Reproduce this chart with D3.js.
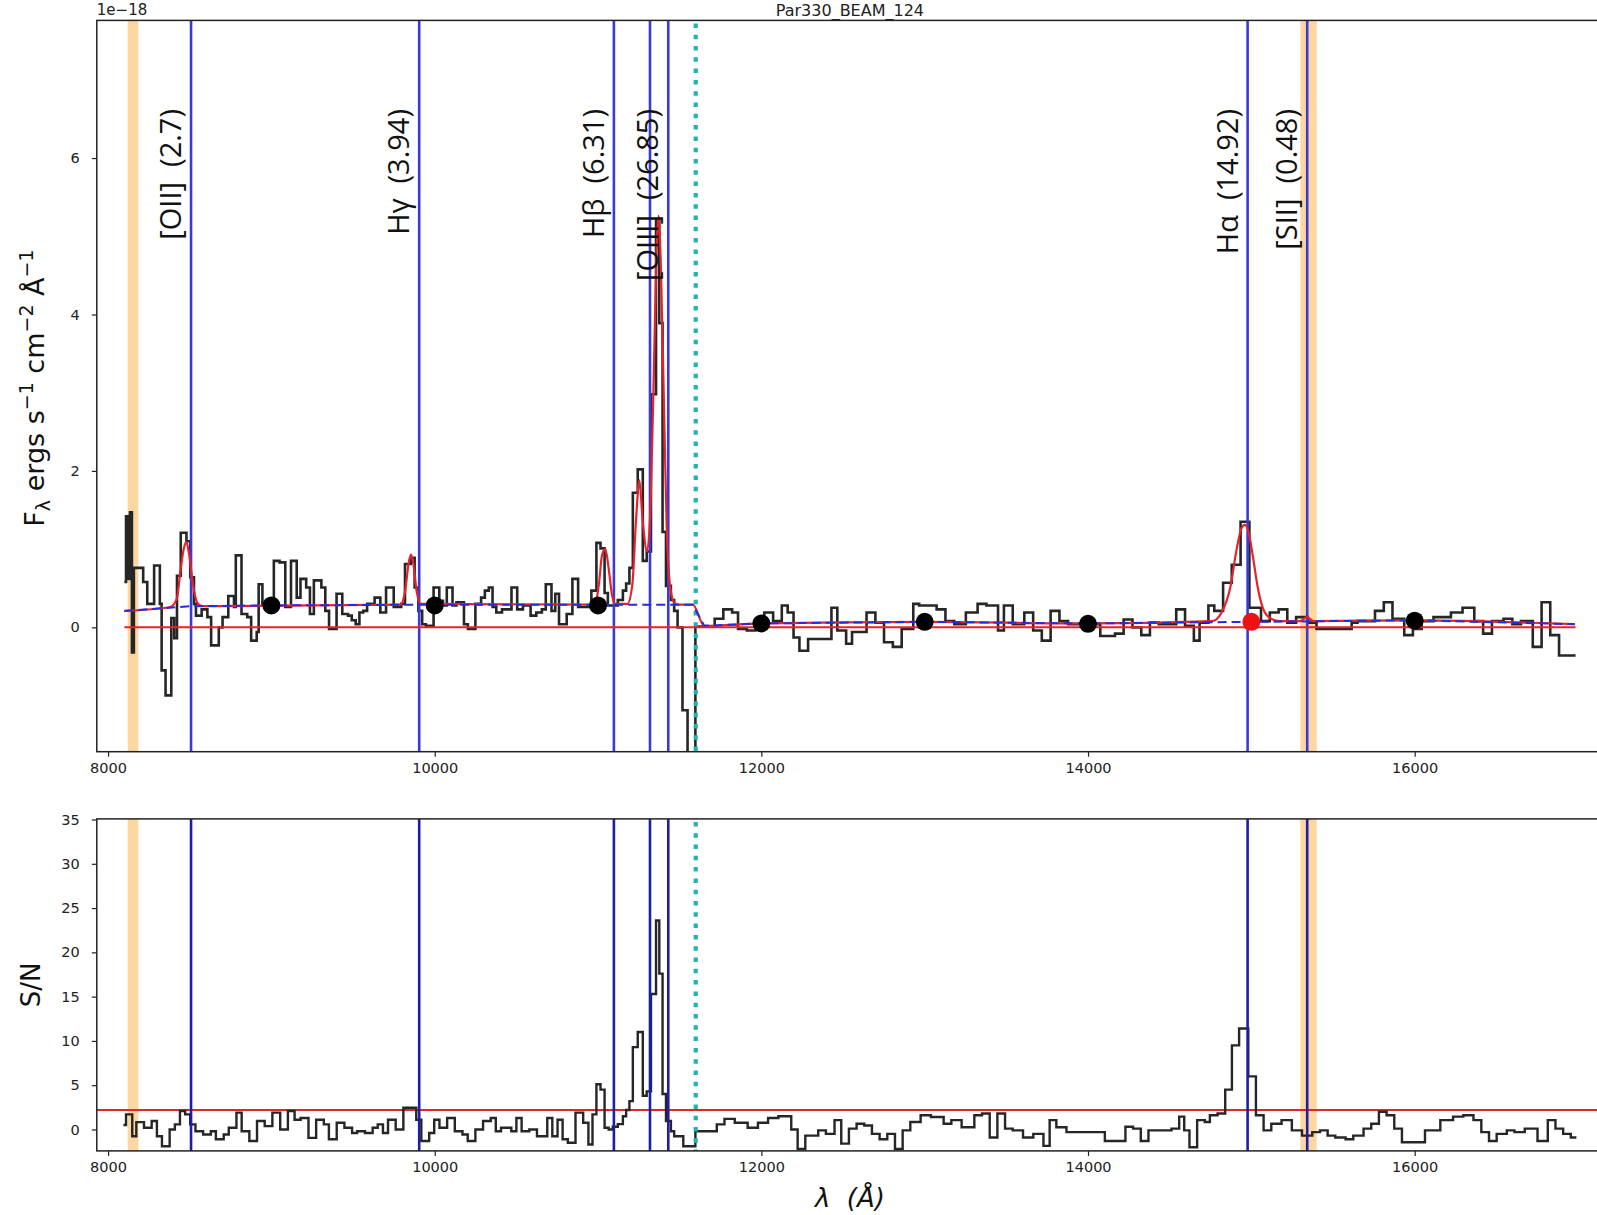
<!DOCTYPE html>
<html>
<head>
<meta charset="utf-8">
<script src="https://cdn.jsdelivr.net/npm/d3@7"></script>
<style>
  body { margin: 0; background: #fff; }
  svg { display: block; }
  .tick text { font-family: "DejaVu Sans", sans-serif; font-size: 14.5px; fill: #222; }
  .tick line { stroke: #222; stroke-width: 1.2; }
</style>
</head>
<body>
<svg id="chart" width="1597" height="1215"></svg>
<script>
// ---- Spectrum: flux (1e-18 erg/s/cm2/A), step bins given by left edge wavelength ----
const fluxWave = [8100,8110,8122,8134,8146,8158,8215,8240,8282,8317,8328,8352,8387,8405,8422,8445,8480,8503,8526,8538,
  8573,8608,8631,8678,8701,8736,8771,8782,8817,8852,8876,8910,8922,8945,8992,9015,9050,9085,9120,9155,
  9178,9213,9236,9260,9306,9330,9353,9399,9434,9469,9492,9516,9539,9562,9586,9632,9667,9702,9749,9795,
  9818,9853,9877,9900,9923,9946,9993,10028,10051,10074,10109,10133,10179,10203,10249,10284,10307,10331,10354,10377,
  10412,10470,10505,10540,10587,10622,10656,10680,10715,10738,10761,10808,10843,10878,10959,10990,11015,11040,11060,11121,
  11152,11172,11192,11213,11243,11274,11298,11324,11355,11375,11395,11416,11446,11466,11487,11517,11548,11596,11714,11767,
  11821,11857,11911,11964,12018,12072,12125,12161,12197,12233,12286,12429,12465,12519,12555,12644,12698,12751,12805,12859,
  12930,12966,13073,13127,13181,13252,13324,13378,13449,13485,13539,13610,13664,13717,13771,13825,13878,14075,14165,14218,
  14272,14326,14379,14433,14540,14594,14648,14683,14737,14773,14827,14880,14934,14988,15059,15113,15167,15220,15274,15345,
  15399,15614,15650,15757,15811,15864,15936,15989,16043,16115,16222,16293,16365,16419,16473,16544,16598,16651,16723,16777,
  16830,16884];
const fluxVal = [0.58,1.42,0.62,1.47,-0.32,0.76,0.58,0.30,0.79,0.30,-0.55,-0.87,0.12,-0.14,0.66,1.21,1.10,0.64,0.30,0.15,
  0.23,0.13,-0.23,0.00,0.13,0.40,0.26,0.92,0.17,0.13,-0.17,-0.06,0.55,0.30,0.21,0.85,0.83,0.26,0.85,0.38,
  0.62,0.51,0.17,0.60,0.51,0.21,-0.02,0.43,0.17,0.15,0.09,0.04,0.19,0.21,0.30,0.38,0.19,0.51,0.26,0.30,
  0.81,0.89,0.51,0.21,0.04,0.02,0.51,0.34,0.28,0.51,0.28,0.32,0.04,-0.02,0.30,0.38,0.47,0.51,0.26,0.19,
  0.23,0.51,0.23,0.28,0.15,0.19,0.23,0.55,0.21,0.43,0.04,0.17,0.62,0.26,0.47,1.08,1.01,0.44,0.28,0.35,
  0.47,0.56,0.76,1.72,2.02,0.85,0.97,2.98,5.20,3.89,1.22,0.53,0.35,0.21,0.00,-1.06,-1.70,0.01,0.11,0.23,
  0.19,-0.02,-0.04,0.04,0.19,0.08,0.28,0.19,-0.13,-0.30,-0.15,0.25,-0.04,-0.21,-0.06,0.19,0.06,-0.19,-0.25,-0.02,
  0.30,0.28,0.23,0.08,0.04,0.19,0.30,0.28,-0.04,0.28,0.04,0.19,-0.04,-0.17,0.21,0.08,0.04,-0.11,-0.08,0.10,
  0.00,-0.10,0.06,0.04,0.23,0.02,-0.17,0.06,0.28,0.21,0.57,0.80,1.35,0.25,0.08,0.19,0.23,0.06,0.13,0.06,
  -0.02,0.06,0.08,0.21,0.32,0.11,-0.10,-0.02,0.08,0.13,0.19,0.25,0.08,-0.08,0.08,0.11,0.04,0.08,-0.25,0.32,
  -0.10,-0.36];
const fluxEnd = 16985;

// ---- Signal-to-noise per bin ----
const snWave = [8094,8110,8148,8173,8220,8267,8299,8330,8377,8409,8440,8472,8503,8535,8582,8629,8660,8708,8739,8786,
  8818,8865,8912,8959,9006,9054,9101,9142,9179,9227,9274,9321,9352,9400,9447,9494,9525,9573,9620,9651,
  9683,9714,9761,9808,9887,9918,9966,9997,10029,10076,10123,10170,10202,10249,10296,10343,10374,10406,10469,10500,
  10532,10579,10626,10689,10720,10752,10783,10815,10862,10909,10941,10966,10990,11015,11040,11065,11090,11121,11152,11172,
  11192,11213,11243,11274,11298,11324,11355,11375,11395,11416,11446,11466,11487,11522,11596,11727,11774,11837,11916,11979,
  12041,12104,12183,12222,12269,12348,12395,12448,12489,12536,12583,12630,12677,12724,12771,12818,12865,12912,12975,13038,
  13116,13163,13226,13304,13351,13398,13445,13492,13539,13602,13665,13727,13765,13806,13868,14103,14229,14276,14323,14370,
  14511,14558,14589,14621,14668,14715,14746,14793,14840,14881,14925,14981,15028,15075,15122,15185,15248,15310,15373,15420,
  15467,15514,15577,15624,15687,15734,15781,15828,15875,15922,16063,16157,16235,16298,16360,16408,16455,16502,16564,16611,
  16674,16752,16815,16862,16909,16956];
const snVal = [0.5,1.7,-0.76,0.83,0.2,0.95,-0.76,-1.9,0.0,0.57,2.08,1.7,0.57,-0.2,-0.57,-0.2,-1.1,-0.57,0.2,1.9,
  -0.2,-1.3,0.95,0.38,1.9,0.0,2.08,1.1,1.3,-0.95,1.1,0.57,-1.1,0.76,0.2,-0.4,-0.2,-0.4,0.2,0.57,
  -0.4,1.1,0.0,2.46,1.1,-1.3,-0.4,1.1,0.2,1.3,-0.2,-0.57,-1.3,0.0,0.95,1.3,-0.2,0.2,-0.2,1.3,
  -0.2,0.0,-0.76,1.3,-0.76,1.1,-1.1,-1.5,1.9,0.76,-1.7,1.7,5.1,4.5,0.2,0.0,0.3,0.6,1.5,2.2,
  3.2,9.3,11.0,3.8,4.3,15.3,23.6,17.6,4.0,0.95,-0.2,-0.76,-0.76,-1.9,-0.2,0.57,1.2,0.76,0.2,0.76,
  1.3,1.5,0.0,-2.2,-0.7,-0.1,-0.5,1.05,-1.6,0.1,0.65,0.45,-0.5,-1.1,-0.5,-2.2,-0.1,0.85,1.6,1.4,
  0.65,1.05,0.25,1.6,1.8,-0.9,1.8,0.1,-0.1,-0.9,-0.5,-1.85,1.05,0.25,-0.3,-1.3,0.3,0.1,-1.3,-0.1,
  0.1,1.45,-0.1,-2.0,1.05,0.85,1.6,1.8,4.5,9.5,11.4,6.0,1.6,-0.1,0.65,1.05,-0.1,-0.7,-0.3,-0.1,
  -0.7,-0.9,-1.1,-0.7,0.1,0.65,2.0,1.6,0.1,-1.45,-0.1,1.05,1.45,1.6,1.05,-0.3,-1.3,-0.5,-0.1,-0.3,
  0.1,-1.3,1.05,0.1,-0.5,-0.9];
const snEnd = 16990;
const snThreshold = 2.2;

// ---- Best-fit model (continuum + emission lines) ----
const modelWave = [8100,8380,8420,8445,8465,8480,8495,8520,8545,8575,9790,9820,9840,9855,9870,9890,9915,
  10980,11005,11025,11045,11065,11085,11105,11180,11210,11232,11253,11272,11300,11322,11342,11358,11370,11385,11402,
  11420,11440,11465,11490,11580,11650,12000,13000,14000,14760,14820,14870,14910,14940,14960,14985,15010,15040,15080,
  15130,15170,15300,15340,15380,16000,16980];
const modelFlux = [0.21,0.26,0.36,0.75,1.02,1.09,0.95,0.55,0.32,0.27,0.29,0.48,0.82,0.93,0.80,0.45,0.30,
  0.29,0.55,0.93,1.00,0.75,0.42,0.30,0.30,0.55,1.35,1.88,1.40,0.97,1.60,3.30,4.80,5.26,4.60,3.00,
  1.30,0.55,0.32,0.29,0.29,0.02,0.05,0.07,0.05,0.08,0.20,0.50,1.00,1.27,1.31,1.20,0.90,0.50,0.20,
  0.10,0.08,0.08,0.13,0.08,0.09,0.04];

// ---- Continuum ----
const contWave = [8100,8500,9000,10000,11000,11580,11650,12000,13000,14000,15000,16000,16980];
const contFlux = [0.21,0.27,0.28,0.29,0.29,0.29,0.02,0.05,0.07,0.05,0.07,0.09,0.04];
const nodeWave = [9000,10000,11000,12000,13000,14000,15000,16000];
const nodeFlux = [0.28,0.28,0.28,0.05,0.07,0.045,0.07,0.085];
const nodeMasked = [false,false,false,false,false,false,true,false];

// ---- Emission lines (observed wavelength) ----
const lineWave = [8508, 9905, 11097, 11318, 11430, 14977, 15342];
const labelName = ["[OII]", "H\u03b3", "H\u03b2", "[OIII]", "H\u03b1", "[SII]"];
const labelSN = ["2.7", "3.94", "6.31", "26.85", "14.92", "0.48"];
const labelWave = [8508, 9905, 11097, 11430, 14977, 15342];

// ---- Masked regions and grism transition ----
const maskStart = [8120, 15300];
const maskEnd = [8185, 15400];
const grismSplit = 11598;

const xTicks = [8000, 10000, 12000, 14000, 16000];
const fluxTicks = [0, 2, 4, 6];
const snTicks = [0, 5, 10, 15, 20, 25, 30, 35];

const title = "Par330_BEAM_124";

// ---------------------------------------------------------------
const svg = d3.select("#chart");
const L = 96.8, R = 1603;
const top1 = 20.4, bot1 = 751.7, top2 = 818.9, bot2 = 1150.9;

const x = d3.scaleLinear().domain([7931, 17153]).range([L, R]);
const yF = d3.scaleLinear().domain([-1.59, 7.76]).range([bot1, top1]);
const yS = d3.scaleLinear().domain([-2.42, 35.07]).range([bot2, top2]);

const defs = svg.append("defs");
defs.append("clipPath").attr("id", "clip1").append("rect")
  .attr("x", L).attr("y", top1).attr("width", R - L).attr("height", bot1 - top1);
defs.append("clipPath").attr("id", "clip2").append("rect")
  .attr("x", L).attr("y", top2).attr("width", R - L).attr("height", bot2 - top2);

const zip = (a, b) => a.map((w, i) => [w, b[i]]);
const stepPts = (w, v, end) => zip(w, v).concat([[end, v[v.length - 1]]]);

const BLUE_TOP = "#3a3ad8", BLUE_BOT = "#1d1daa", RED = "#e3242b",
      CYAN = "#1fb3b3", ORANGE = "#fdd7a0", BLACK = "#262626";

function panel(top, bot, clipId) {
  const g = svg.append("g").attr("clip-path", `url(#${clipId})`);
  // masked regions
  g.selectAll("rect.mask").data(maskStart).join("rect")
    .attr("x", (d) => x(d)).attr("y", top)
    .attr("width", (d, i) => x(maskEnd[i]) - x(d)).attr("height", bot - top)
    .attr("fill", ORANGE);
  return g;
}

function vlines(g, top, bot, color) {
  g.selectAll("line.em").data(lineWave).join("line")
    .attr("x1", (d) => x(d)).attr("x2", (d) => x(d))
    .attr("y1", top).attr("y2", bot)
    .attr("stroke", color).attr("stroke-width", 2.6);
  g.append("line")
    .attr("x1", x(grismSplit)).attr("x2", x(grismSplit))
    .attr("y1", top + 3).attr("y2", bot)
    .attr("stroke", CYAN).attr("stroke-width", 4.2)
    .attr("stroke-dasharray", "4.5 6.8");
}

// ===== Top panel: flux =====
const g1 = panel(top1, bot1, "clip1");
g1.append("path")
  .datum(stepPts(fluxWave, fluxVal, fluxEnd))
  .attr("fill", "none").attr("stroke", BLACK).attr("stroke-width", 2.6)
  .attr("d", d3.line().x((d) => x(d[0])).y((d) => yF(d[1])).curve(d3.curveStepAfter));
vlines(g1, top1, bot1, BLUE_TOP);

// zero level
g1.append("line")
  .attr("x1", x(fluxWave[0])).attr("x2", x(fluxEnd))
  .attr("y1", yF(0)).attr("y2", yF(0))
  .attr("stroke", RED).attr("stroke-width", 2);

// model
g1.append("path")
  .datum(zip(modelWave, modelFlux))
  .attr("fill", "none").attr("stroke", RED).attr("stroke-width", 2.2)
  .attr("d", d3.line().x((d) => x(d[0])).y((d) => yF(d[1])).curve(d3.curveMonotoneX));

// continuum
g1.append("path")
  .datum(zip(contWave, contFlux))
  .attr("fill", "none").attr("stroke", "#2a2ae0").attr("stroke-width", 2)
  .attr("stroke-dasharray", "9 5")
  .attr("d", d3.line().x((d) => x(d[0])).y((d) => yF(d[1])));

// continuum nodes
g1.selectAll("circle.node").data(zip(nodeWave, nodeFlux)).join("circle")
  .attr("cx", (d) => x(d[0])).attr("cy", (d) => yF(d[1])).attr("r", 9)
  .attr("fill", (d, i) => nodeMasked[i] ? "#ee1111" : "#000");

// line labels
svg.append("g").selectAll("text").data(labelWave).join("text")
  .attr("transform", (d) => `translate(${x(d) - 10},109) rotate(-90)`)
  .attr("text-anchor", "end")
  .style("white-space", "pre")
  .attr("font-family", "'Open Sans', sans-serif").attr("font-size", 29)
  .attr("fill", "#111")
  .text((d, i) => `${labelName[i]}  (${labelSN[i]})`);

// ===== Bottom panel: S/N =====
const g2 = panel(top2, bot2, "clip2");
g2.append("line")
  .attr("x1", L).attr("x2", R)
  .attr("y1", yS(snThreshold)).attr("y2", yS(snThreshold))
  .attr("stroke", RED).attr("stroke-width", 2.2);
g2.append("path")
  .datum(stepPts(snWave, snVal, snEnd))
  .attr("fill", "none").attr("stroke", BLACK).attr("stroke-width", 2.4)
  .attr("d", d3.line().x((d) => x(d[0])).y((d) => yS(d[1])).curve(d3.curveStepAfter));
vlines(g2, top2, bot2, BLUE_BOT);

// ===== Frames and axes =====
[[top1, bot1], [top2, bot2]].forEach(([t, b]) => {
  svg.append("rect").attr("x", L).attr("y", t).attr("width", R - L).attr("height", b - t)
    .attr("fill", "none").attr("stroke", "#222").attr("stroke-width", 1.5);
});

function styleAxis(g) { g.select(".domain").remove(); }

svg.append("g").attr("transform", `translate(0,${bot1})`)
  .call(d3.axisBottom(x).tickValues(xTicks).tickSize(5).tickPadding(6).tickFormat(d3.format("d")))
  .call(styleAxis);
svg.append("g").attr("transform", `translate(0,${bot2})`)
  .call(d3.axisBottom(x).tickValues(xTicks).tickSize(5).tickPadding(6).tickFormat(d3.format("d")))
  .call(styleAxis);
svg.append("g").attr("transform", `translate(${L},0)`)
  .call(d3.axisLeft(yF).tickValues(fluxTicks).tickSize(5).tickPadding(12).tickFormat(d3.format("d")))
  .call(styleAxis);
svg.append("g").attr("transform", `translate(${L},0)`)
  .call(d3.axisLeft(yS).tickValues(snTicks).tickSize(5).tickPadding(12).tickFormat(d3.format("d")))
  .call(styleAxis);

// offset text and title
svg.append("text").attr("x", L).attr("y", 15)
  .attr("font-family", "DejaVu Sans, sans-serif").attr("font-size", 15).attr("fill", "#222")
  .text("1e\u221218");
svg.append("text").attr("x", (L + R) / 2).attr("y", 15.5).attr("text-anchor", "middle")
  .attr("font-family", "DejaVu Sans, sans-serif").attr("font-size", 16).attr("fill", "#222")
  .text(title);

// axis labels
const yl = svg.append("text")
  .attr("transform", `translate(44,${(top1 + bot1) / 2 + 2}) rotate(-90)`)
  .attr("text-anchor", "middle")
  .attr("font-family", "DejaVu Sans, sans-serif").attr("font-size", 27).attr("fill", "#111");
yl.append("tspan").text("F");
yl.append("tspan").attr("font-size", 19).attr("dy", 6).text("\u03bb");
yl.append("tspan").attr("dy", -6).text(" ergs s");
yl.append("tspan").attr("font-size", 19).attr("dy", -11).text("\u22121");
yl.append("tspan").attr("dy", 11).text(" cm");
yl.append("tspan").attr("font-size", 19).attr("dy", -11).text("\u22122");
yl.append("tspan").attr("dy", 11).text(" \u00c5");
yl.append("tspan").attr("font-size", 19).attr("dy", -11).text("\u22121");

svg.append("text")
  .attr("transform", `translate(40,${(top2 + bot2) / 2}) rotate(-90)`)
  .attr("text-anchor", "middle")
  .attr("font-family", "DejaVu Sans, sans-serif").attr("font-size", 26).attr("fill", "#111")
  .text("S/N");

svg.append("text")
  .attr("x", (L + R) / 2).attr("y", 1207).attr("text-anchor", "middle")
  .style("white-space", "pre")
  .attr("font-family", "DejaVu Sans, sans-serif").attr("font-size", 26).attr("fill", "#111")
  .attr("font-style", "italic")
  .text("\u03bb  (\u00c5)");
</script>
</body>
</html>
